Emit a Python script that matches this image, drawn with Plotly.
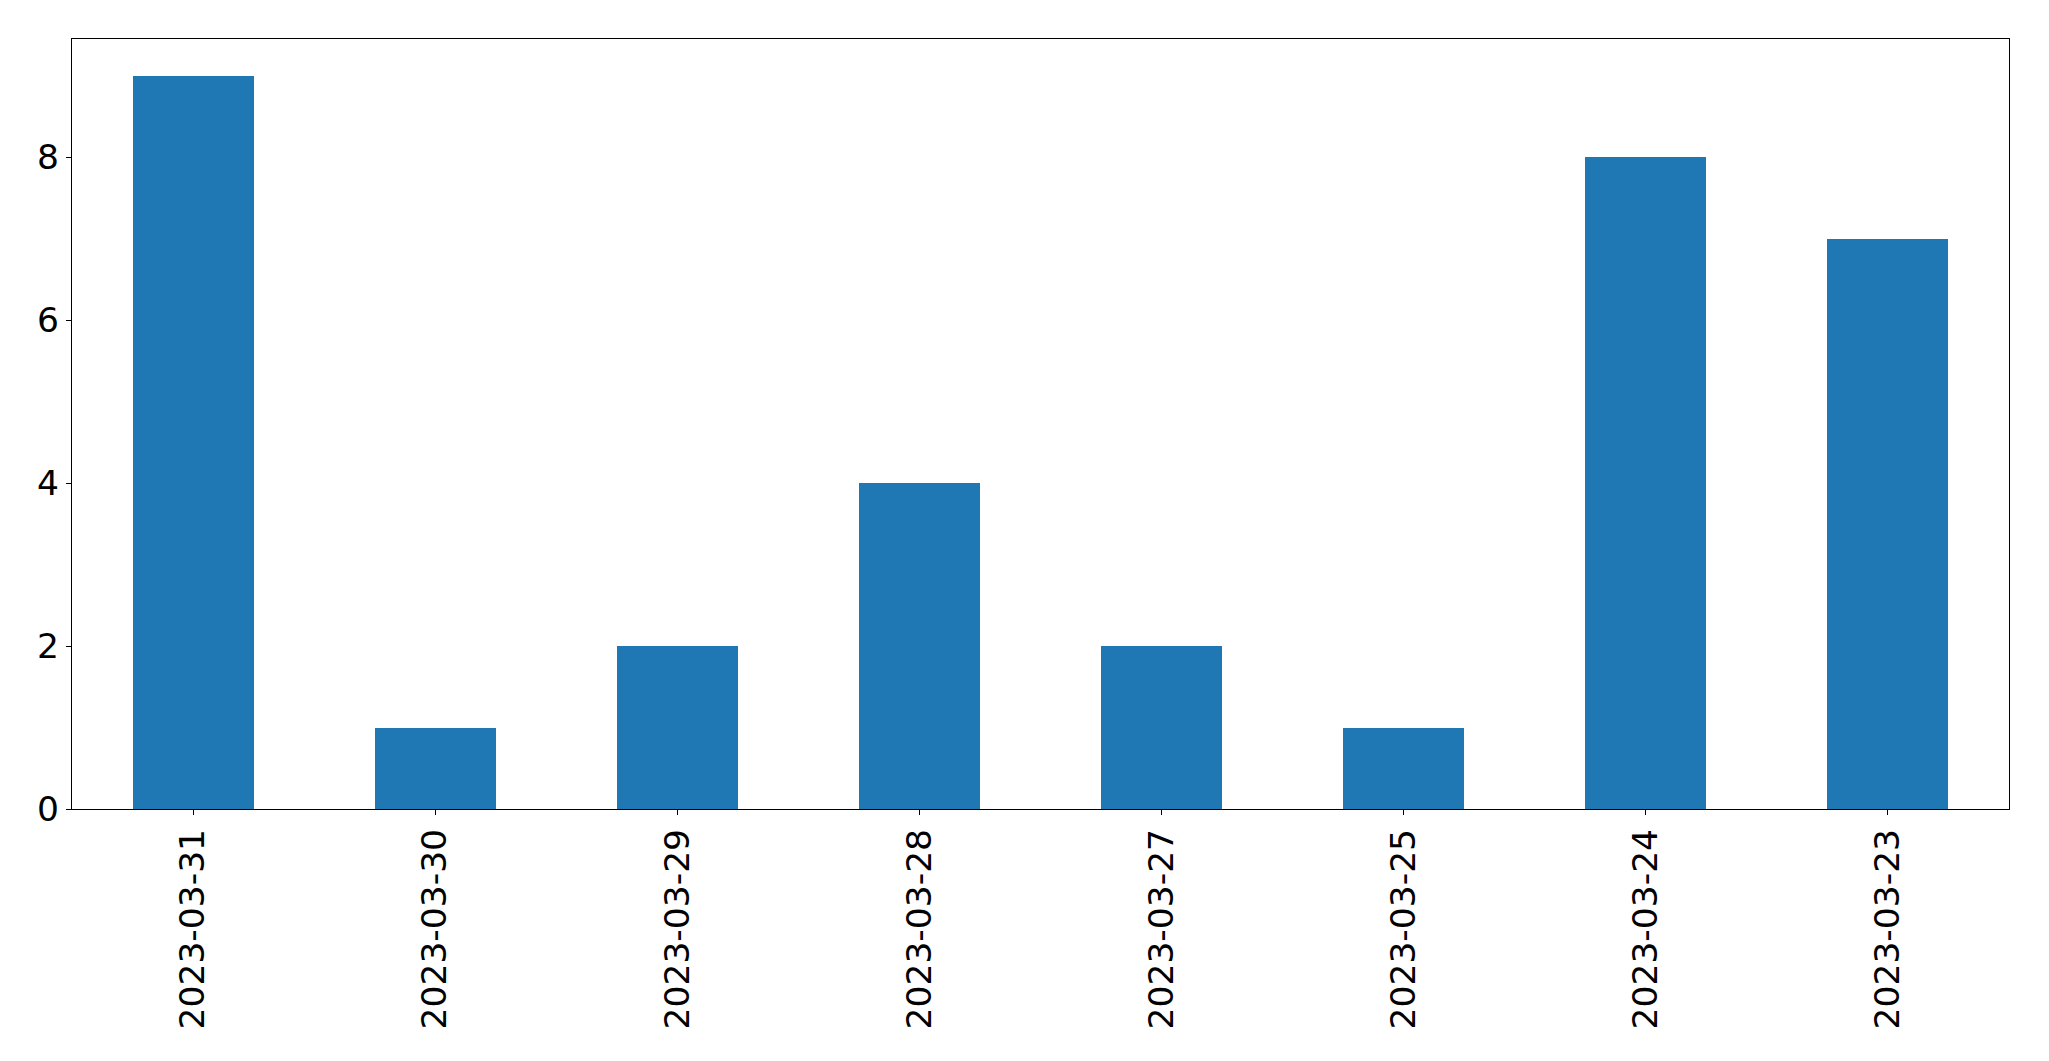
import plotly.graph_objects as go

dates = ["2023-03-31", "2023-03-30", "2023-03-29", "2023-03-28",
         "2023-03-27", "2023-03-25", "2023-03-24", "2023-03-23"]
counts = [9, 1, 2, 4, 2, 1, 8, 7]
y_ticks = [0, 2, 4, 6, 8]

fig = go.Figure()
fig.add_trace(go.Bar(x=dates, y=counts, width=0.5, marker=dict(color="#1f77b4", line=dict(width=0))))

# page body has an 8px margin; size the figure to fit inside the window
fig.update_layout(
    width=2033, height=1045,
    margin=dict(l=64, r=32, t=31, b=244, pad=0, autoexpand=False),
    paper_bgcolor="white", plot_bgcolor="white",
    showlegend=False,
    font=dict(family="DejaVu Sans", size=34.5, color="black"),
    bargap=0,
)
fig.update_xaxes(
    type="category", range=[-0.5, 7.5],
    showline=True, linecolor="black", linewidth=1.3, mirror=True,
    ticks="outside", ticklen=5, tickwidth=1.3, tickcolor="black",
    tickangle=-90, showgrid=False, zeroline=False, automargin=False,
    tickfont=dict(family="DejaVu Sans", size=34.5, color="black"),
)
fig.update_yaxes(
    range=[0, 9.45], tickvals=y_ticks,
    showline=True, linecolor="black", linewidth=1.3, mirror=True,
    ticks="outside", ticklen=5, tickwidth=1.3, tickcolor="black",
    showgrid=False, zeroline=False, automargin=False,
    tickfont=dict(family="DejaVu Sans", size=34.5, color="black"),
)

fig.write_html("out.html")
